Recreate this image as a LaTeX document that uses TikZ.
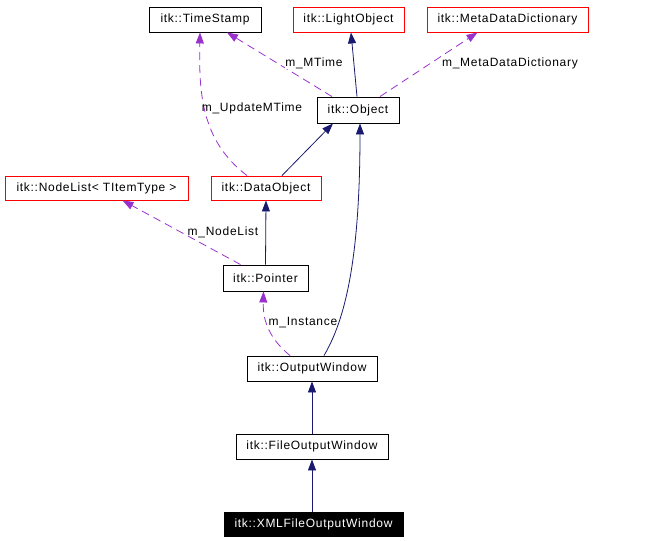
\documentclass[tikz,border=0pt]{standalone}
\usepackage{fontspec}
\setmainfont{Liberation Sans}[LetterSpace=6]
\usetikzlibrary{arrows.meta}
\definecolor{navy}{RGB}{25,25,112}
\definecolor{orch}{RGB}{153,50,204}
\tikzset{
  cls/.style={draw=black, fill=white, inner sep=0pt, font=\fontsize{12}{14}\selectfont, line width=0.9pt},
  redcls/.style={cls, draw=red},
  cur/.style={cls, fill=black, text=white},
  inh/.style={draw=navy, line width=0.8pt, -{Triangle[length=11pt,width=8pt]}},
  use/.style={draw=orch, line width=0.8pt, dash pattern=on 8pt off 5pt, -{Triangle[length=11pt,width=8pt]}},
  lbl/.style={inner sep=0pt, font=\fontsize{12}{14}\selectfont}
}
\begin{document}
\begin{tikzpicture}[x=1pt,y=-1pt]
\useasboundingbox (0,0) rectangle (649,541);
\node[cls, minimum width=112pt, minimum height=25pt] (ts) at (205,19.5) {itk::TimeStamp};
\node[redcls, minimum width=111pt, minimum height=25pt] (lo) at (348.5,19.5) {itk::LightObject};
\node[redcls, minimum width=161pt, minimum height=25pt] (mdd) at (507.5,19.5) {itk::MetaDataDictionary};
\node[cls, minimum width=82pt, minimum height=26pt] (obj) at (358,110) {itk::Object};
\node[redcls, minimum width=110pt, minimum height=24pt] (dobj) at (266,188) {itk::DataObject};
\node[redcls, minimum width=183pt, minimum height=24pt] (nl) at (96.5,188) {itk::NodeList< TItemType >};
\node[cls, minimum width=85pt, minimum height=26pt] (ptr) at (265.5,278) {itk::Pointer};
\node[cls, minimum width=130pt, minimum height=25pt] (ow) at (312,368.5) {itk::OutputWindow};
\node[cls, minimum width=152pt, minimum height=25pt] (fow) at (312,446.5) {itk::FileOutputWindow};
\node[cur, minimum width=179pt, minimum height=24pt] (xml) at (313.5,524) {itk::XMLFileOutputWindow};

% inheritance
\draw[inh] ([xshift=-1pt]obj.north) -- ([xshift=2.5pt]lo.south);
\draw[inh] ([xshift=16pt]dobj.north) -- ([xshift=-25pt]obj.south);
\draw[inh] ([xshift=12pt]ow.north) .. controls (345,320) and (360,260) .. ([xshift=2pt]obj.south);
\draw[inh] (ptr.north) -- (dobj.south);
\draw[inh] (fow.north) -- (ow.south);
\draw[inh] ([xshift=-1.5pt]xml.north) -- (fow.south);

% usage
\draw[use] ([xshift=-26pt]obj.north) -- ([xshift=22pt]ts.south);
\draw[use] ([xshift=22pt]obj.north) -- ([xshift=-30pt]mdd.south);
\draw[use] ([xshift=-19pt]dobj.north) .. controls (200,140) and (199,90) .. ([xshift=-5pt]ts.south);
\draw[use] ([xshift=-25pt]ptr.north) -- ([xshift=26pt]nl.south);
\draw[use] ([xshift=-22pt]ow.north) .. controls (265,335) and (263,315) .. ([xshift=-2pt]ptr.south);

\node[lbl, fill=white] (l1) at (314,63) {m\_MTime};
\node[lbl, fill=white] (l2) at (510,63) {m\_MetaDataDictionary};
\node[lbl] (l3) at (252,108) {m\_UpdateMTime};
\node[lbl] (l4) at (223,232) {m\_NodeList};
\node[lbl] (l5) at (303,323) {m\_Instance};
\end{tikzpicture}
\end{document}
